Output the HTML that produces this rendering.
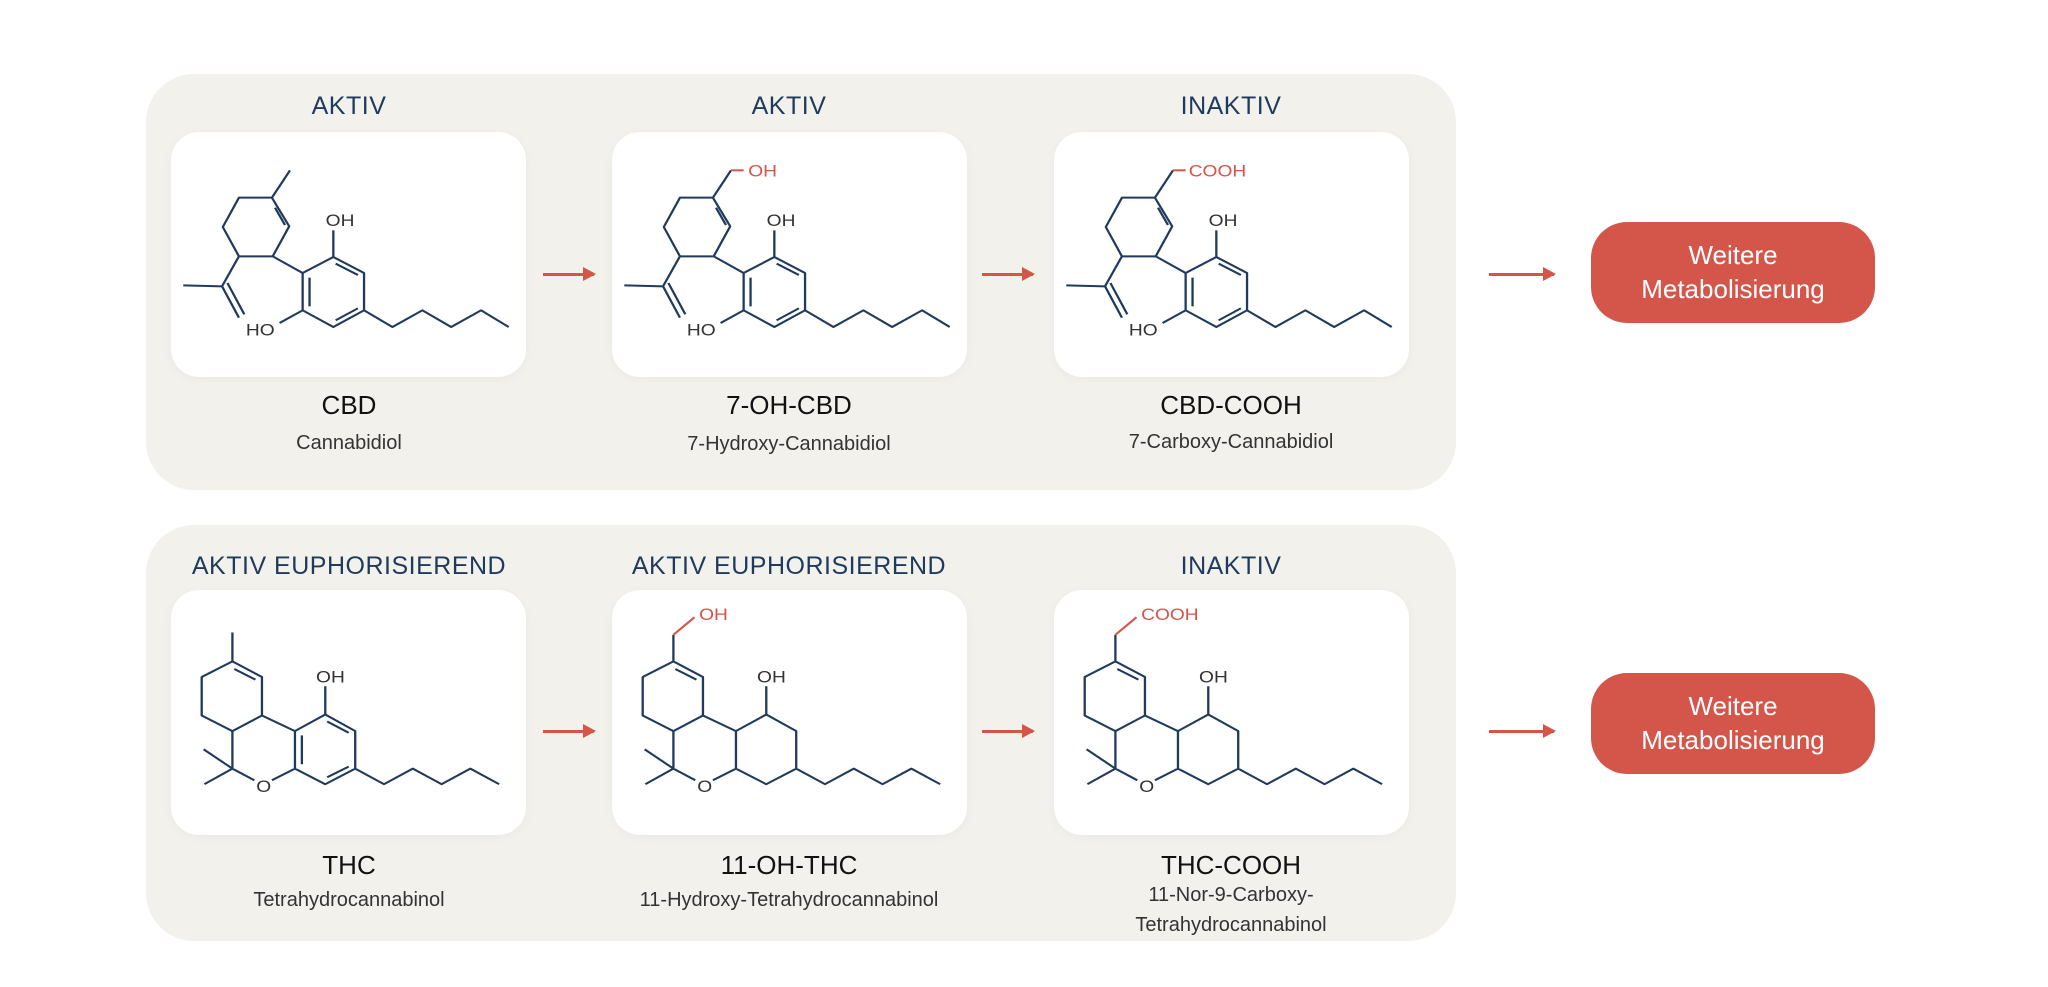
<!DOCTYPE html>
<html><head><meta charset="utf-8"><style>
*{margin:0;padding:0;box-sizing:border-box}
body{width:2048px;height:987px;background:#fff;position:relative;overflow:hidden;font-family:"Liberation Sans",sans-serif}
.panel{position:absolute;left:146px;width:1310px;height:416px;background:#f2f1ec;border-radius:48px}
.card{position:absolute;width:355px;height:245px;background:#fff;border-radius:28px;box-shadow:0 2px 10px rgba(0,0,0,0.04)}
.card svg{position:absolute;left:0;top:0;width:355px;height:245px}
.t{position:absolute;width:440px;text-align:center;color:#1f3a5c;font-size:25px;letter-spacing:0.5px}
.n{position:absolute;width:440px;text-align:center;color:#111;font-size:26px}
.s{position:absolute;width:440px;text-align:center;color:#333;font-size:20px;line-height:30px}
.arr{position:absolute;height:3px;background:#d4564a}
.arr:after{content:"";position:absolute;right:-2px;top:-6px;border-left:13px solid #d4564a;border-top:7.5px solid transparent;border-bottom:7.5px solid transparent}
.btn{position:absolute;left:1591px;width:284px;height:101px;background:#d4564a;border-radius:36px;color:#fff;font-size:26px;text-align:center;line-height:34px;padding-top:16px}
</style></head><body>
<div class="panel" style="top:74px"></div>
<div class="panel" style="top:525px"></div>

<!-- titles row 1 -->
<div class="t" style="left:129px;top:92px">AKTIV</div>
<div class="t" style="left:569px;top:92px">AKTIV</div>
<div class="t" style="left:1011px;top:92px">INAKTIV</div>
<div class="t" style="left:129px;top:552px">AKTIV EUPHORISIEREND</div>
<div class="t" style="left:569px;top:552px">AKTIV EUPHORISIEREND</div>
<div class="t" style="left:1011px;top:552px">INAKTIV</div>

<!-- CBD -->
<div class="card" style="left:171px;top:132px"><svg viewBox="85 215 925 735" preserveAspectRatio="none">
<g fill="none" stroke="#1f3a5c" stroke-width="6" stroke-linejoin="round">
<path d="M395,330 L348,412 M262,412 L348,412 L393,498 L350,588 L262,588 L220,500 Z M356,442 L382,494 M262,588 L218,678 L117,675 M218,678 L262,772 M232,668 L276,762 M350,588 L428,638 M428,638 L508,590 L588,638 L588,750 L508,800 L428,750 Z M446,652 L446,738 M514,610 L572,644 M514,780 L572,744 M508,590 L508,510 M428,750 L368,788 M588,750 L662,800 L740,750 L815,800 L893,750 L965,800"/></g>
<g font-family="Liberation Sans" font-size="50" fill="#333"><text x="488" y="497">OH</text><text x="280" y="825">HO</text></g></svg></div>

<!-- 7-OH-CBD -->
<div class="card" style="left:612px;top:132px"><svg viewBox="85 215 925 735" preserveAspectRatio="none">
<g fill="none" stroke="#1f3a5c" stroke-width="6" stroke-linejoin="round">
<path d="M395,330 L348,412 M262,412 L348,412 L393,498 L350,588 L262,588 L220,500 Z M356,442 L382,494 M262,588 L218,678 L117,675 M218,678 L262,772 M232,668 L276,762 M350,588 L428,638 M428,638 L508,590 L588,638 L588,750 L508,800 L428,750 Z M446,652 L446,738 M514,610 L572,644 M514,780 L572,744 M508,590 L508,510 M428,750 L368,788 M588,750 L662,800 L740,750 L815,800 L893,750 L965,800"/></g>
<path d="M395,330 L428,330" stroke="#d4564a" stroke-width="6"/>
<text x="440" y="348" font-family="Liberation Sans" font-size="50" fill="#d4564a">OH</text>
<g font-family="Liberation Sans" font-size="50" fill="#333"><text x="488" y="497">OH</text><text x="280" y="825">HO</text></g></svg></div>

<!-- CBD-COOH -->
<div class="card" style="left:1054px;top:132px"><svg viewBox="85 215 925 735" preserveAspectRatio="none">
<g fill="none" stroke="#1f3a5c" stroke-width="6" stroke-linejoin="round">
<path d="M395,330 L348,412 M262,412 L348,412 L393,498 L350,588 L262,588 L220,500 Z M356,442 L382,494 M262,588 L218,678 L117,675 M218,678 L262,772 M232,668 L276,762 M350,588 L428,638 M428,638 L508,590 L588,638 L588,750 L508,800 L428,750 Z M446,652 L446,738 M514,610 L572,644 M514,780 L572,744 M508,590 L508,510 M428,750 L368,788 M588,750 L662,800 L740,750 L815,800 L893,750 L965,800"/></g>
<path d="M395,330 L428,330" stroke="#d4564a" stroke-width="6"/>
<text x="436" y="348" font-family="Liberation Sans" font-size="50" fill="#d4564a">COOH</text>
<g font-family="Liberation Sans" font-size="50" fill="#333"><text x="488" y="497">OH</text><text x="280" y="825">HO</text></g></svg></div>

<!-- THC -->
<div class="card" style="left:171px;top:590px"><svg viewBox="85 210 925 738" preserveAspectRatio="none">
<g fill="none" stroke="#1f3a5c" stroke-width="6" stroke-linejoin="round">
<path d="M245,338 L245,425 M245,425 L322,472 L322,588 L245,635 L165,588 L165,472 Z M250,448 L305,480 M322,588 L408,635 L408,748 L348,783 M302,783 L245,748 L245,635 M245,748 L170,690 M245,748 L172,795 M408,635 L487,585 L565,635 L565,748 L487,795 L408,748 M426,648 L426,735 M492,606 L548,640 M492,774 L548,742 M487,585 L487,500 M565,748 L640,795 L715,748 L790,795 L865,748 L940,795"/></g>
<g font-family="Liberation Sans" font-size="50" fill="#333"><text x="463" y="488">OH</text><text x="307" y="818">O</text></g></svg></div>

<!-- 11-OH-THC -->
<div class="card" style="left:612px;top:590px"><svg viewBox="85 210 925 738" preserveAspectRatio="none">
<g fill="none" stroke="#1f3a5c" stroke-width="6" stroke-linejoin="round">
<path d="M245,345 L245,425 M245,425 L322,472 L322,588 L245,635 L165,588 L165,472 Z M250,448 L305,480 M322,588 L408,635 L408,748 L348,783 M302,783 L245,748 L245,635 M245,748 L170,690 M245,748 L172,795 M408,635 L487,585 L565,635 L565,748 L487,795 L408,748 M487,585 L487,500 M565,748 L640,795 L715,748 L790,795 L865,748 L940,795"/></g>
<path d="M245,345 L300,292" stroke="#d4564a" stroke-width="6"/>
<text x="312" y="300" font-family="Liberation Sans" font-size="50" fill="#d4564a">OH</text>
<g font-family="Liberation Sans" font-size="50" fill="#333"><text x="463" y="488">OH</text><text x="307" y="818">O</text></g></svg></div>

<!-- THC-COOH -->
<div class="card" style="left:1054px;top:590px"><svg viewBox="85 210 925 738" preserveAspectRatio="none">
<g fill="none" stroke="#1f3a5c" stroke-width="6" stroke-linejoin="round">
<path d="M245,345 L245,425 M245,425 L322,472 L322,588 L245,635 L165,588 L165,472 Z M250,448 L305,480 M322,588 L408,635 L408,748 L348,783 M302,783 L245,748 L245,635 M245,748 L170,690 M245,748 L172,795 M408,635 L487,585 L565,635 L565,748 L487,795 L408,748 M487,585 L487,500 M565,748 L640,795 L715,748 L790,795 L865,748 L940,795"/></g>
<path d="M245,345 L300,292" stroke="#d4564a" stroke-width="6"/>
<text x="312" y="300" font-family="Liberation Sans" font-size="50" fill="#d4564a">COOH</text>
<g font-family="Liberation Sans" font-size="50" fill="#333"><text x="463" y="488">OH</text><text x="307" y="818">O</text></g></svg></div>

<!-- names -->
<div class="n" style="left:129px;top:390px">CBD</div>
<div class="s" style="left:129px;top:428px">Cannabidiol</div>
<div class="n" style="left:569px;top:390px">7-OH-CBD</div>
<div class="s" style="left:569px;top:429px">7-Hydroxy-Cannabidiol</div>
<div class="n" style="left:1011px;top:390px">CBD-COOH</div>
<div class="s" style="left:1011px;top:427px">7-Carboxy-Cannabidiol</div>
<div class="n" style="left:129px;top:850px">THC</div>
<div class="s" style="left:129px;top:885px">Tetrahydrocannabinol</div>
<div class="n" style="left:569px;top:850px">11-OH-THC</div>
<div class="s" style="left:569px;top:885px">11-Hydroxy-Tetrahydrocannabinol</div>
<div class="n" style="left:1011px;top:850px">THC-COOH</div>
<div class="s" style="left:1011px;top:880px">11-Nor-9-Carboxy-<br>Tetrahydrocannabinol</div>

<!-- arrows -->
<div class="arr" style="left:543px;top:273px;width:51px"></div>
<div class="arr" style="left:982px;top:273px;width:51px"></div>
<div class="arr" style="left:1489px;top:273px;width:65px"></div>
<div class="arr" style="left:543px;top:730px;width:51px"></div>
<div class="arr" style="left:982px;top:730px;width:51px"></div>
<div class="arr" style="left:1489px;top:730px;width:65px"></div>

<div class="btn" style="top:222px">Weitere<br>Metabolisierung</div>
<div class="btn" style="top:673px">Weitere<br>Metabolisierung</div>
</body></html>
